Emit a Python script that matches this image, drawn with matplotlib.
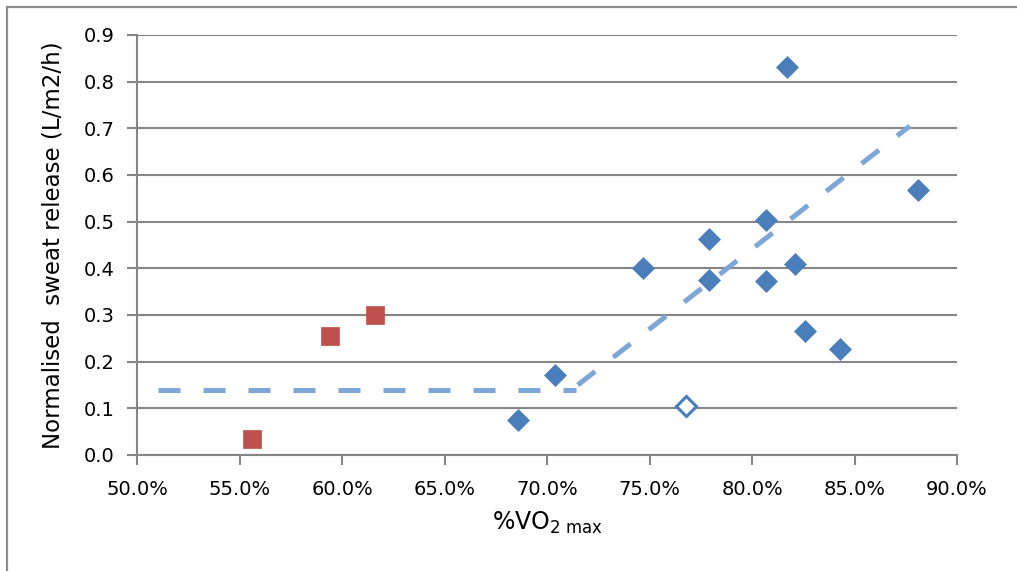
import matplotlib.pyplot as plt
from matplotlib.patches import Rectangle
from matplotlib.ticker import FuncFormatter, MultipleLocator

# blue diamonds (%VO2max, sweat release)
blue_x = [0.686, 0.704, 0.747, 0.779, 0.779, 0.807, 0.807, 0.817, 0.821, 0.826, 0.843, 0.881]
blue_y = [0.075, 0.172, 0.401, 0.462, 0.376, 0.503, 0.372, 0.832, 0.410, 0.266, 0.228, 0.568]
# open diamond
open_x = [0.768]
open_y = [0.104]
# red squares
red_x = [0.556, 0.594, 0.616]
red_y = [0.035, 0.255, 0.301]
# broken-stick trend
flat_x = [0.510, 0.714]
flat_y = [0.140, 0.140]
slope_x = [0.715, 0.877]
slope_y = [0.150, 0.705]

W, H = 1017, 571
fig = plt.figure(figsize=(W / 100, H / 100), dpi=100)
ax = fig.add_axes([137 / W, (H - 455) / H, 820 / W, 420 / H])

grey = '#868686'
blue = '#4A7EBB'
red = '#C0504D'
trend = '#7EA6D6'

fig.patches.append(Rectangle((7 / W, -0.1), 1.2, (H - 7) / H + 0.1, transform=fig.transFigure,
                             fill=False, edgecolor='#8C8C8C', lw=1.6))

ax.plot(flat_x, flat_y, color=trend, lw=3.6, dashes=(4.4, 4.6), solid_capstyle='butt', zorder=2)
ax.plot(slope_x, slope_y, color=trend, lw=3.6, dashes=(4.4, 4.6), solid_capstyle='butt', zorder=2)

ax.plot(blue_x, blue_y, 'D', color=blue, ms=11.5, mec=blue, mew=0.5, ls='none', zorder=3)
ax.plot(open_x, open_y, 'D', mfc='white', mec=blue, ms=10.5, mew=2.2, ls='none', zorder=3)
ax.plot(red_x, red_y, 's', color=red, ms=12.5, mec=red, mew=0.5, ls='none', zorder=3)

ax.set_xlim(0.5, 0.9)
ax.set_ylim(0, 0.9)
ax.xaxis.set_major_locator(MultipleLocator(0.05))
ax.yaxis.set_major_locator(MultipleLocator(0.1))
ax.xaxis.set_major_formatter(FuncFormatter(lambda v, p: f'{v * 100:.1f}%'))
ax.yaxis.set_major_formatter(FuncFormatter(lambda v, p: f'{v:.1f}'))

ax.grid(axis='y', color=grey, lw=1.5)
ax.set_axisbelow(True)
for s in ['top', 'right']:
    ax.spines[s].set_visible(False)
for s in ['left', 'bottom']:
    ax.spines[s].set_color(grey)
    ax.spines[s].set_linewidth(1.5)
ax.tick_params(axis='both', direction='out', length=7, width=1.5, color=grey,
               labelsize=14, labelcolor='black')
ax.tick_params(axis='x', pad=11)
ax.tick_params(axis='y', pad=9)

ax.set_ylabel('Normalised  sweat release (L/m2/h)', fontsize=16.5, labelpad=14)
ax.set_xlabel(r'%VO$_{\mathregular{2\ max}}$', fontsize=17, labelpad=8)

fig.savefig('out.png', dpi=100)
